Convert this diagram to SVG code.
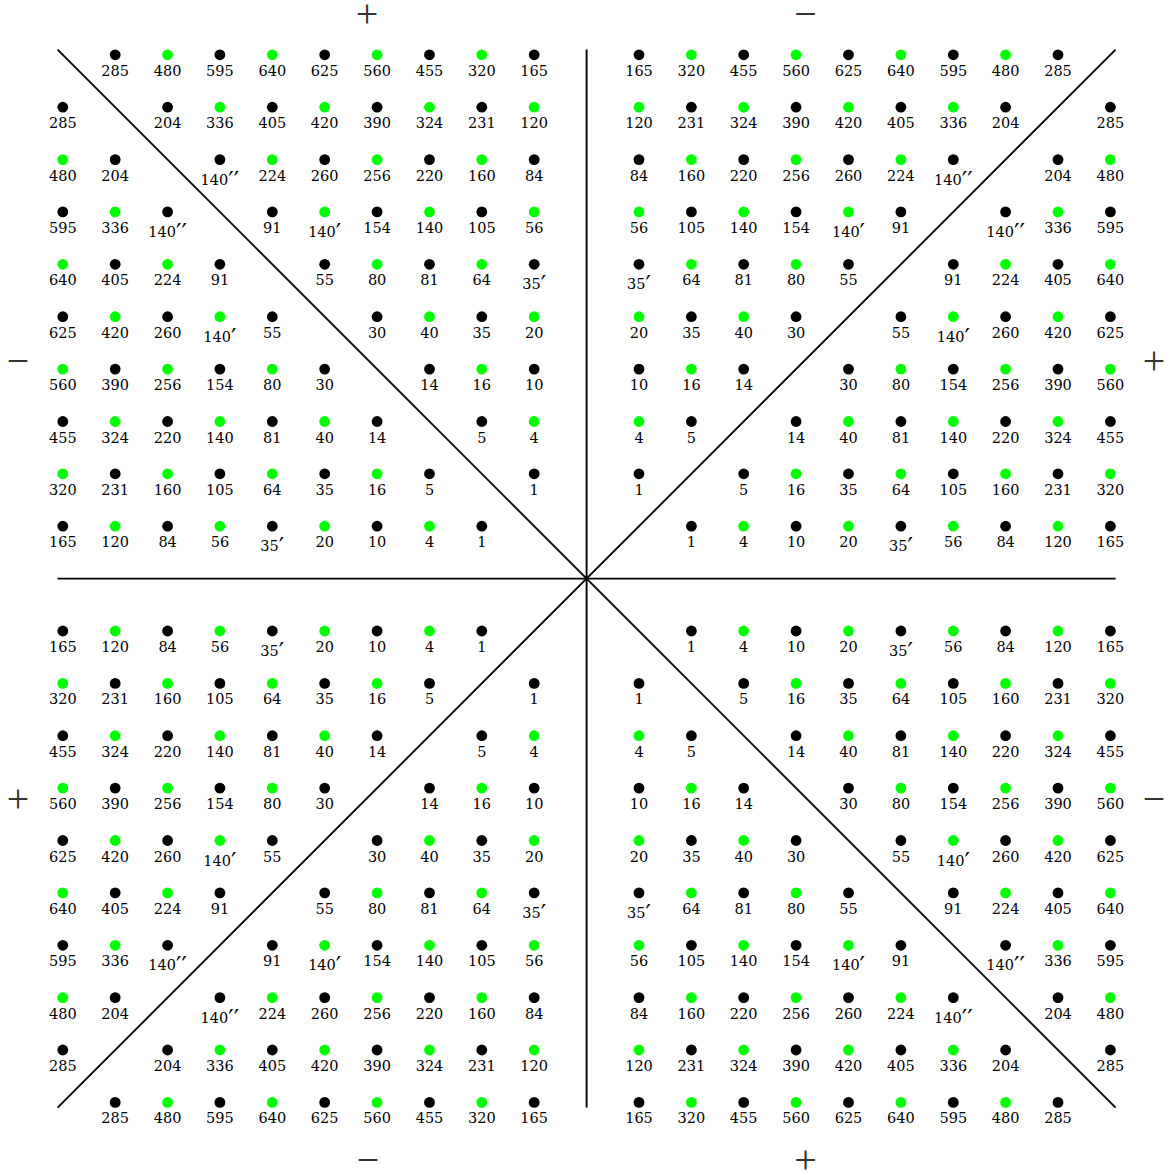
<svg xmlns="http://www.w3.org/2000/svg" width="1173" height="1175" viewBox="0 0 1173 1175">
<style>
text{font-family:"DejaVu Serif","Liberation Serif",serif;font-size:14.5px;text-anchor:middle;fill:#000}
.b circle{fill:#000}
.g circle{fill:#00ff00}
.p{font-family:"DejaVu Sans",sans-serif;font-size:24px}
.sign{font-family:"Liberation Serif",serif;font-size:40px;fill:#333}
.ax{stroke:#000;stroke-width:1.9;fill:none}
</style>
<rect width="1173" height="1175" fill="#fff"/>
<g id="connectors">
<line class="ax" x1="586.6" y1="49.6" x2="586.6" y2="1107.6"/>
<line class="ax" x1="57.6" y1="578.6" x2="1115.6" y2="578.6"/>
<line class="ax" x1="57.6" y1="49.6" x2="1115.6" y2="1107.6"/>
<line class="ax" x1="1115.6" y1="49.6" x2="57.6" y2="1107.6"/>
</g>
<g id="signs">
<text class="sign" x="367" y="26.5">+</text>
<text class="sign" x="805.5" y="26.5">−</text>
<text class="sign" x="18" y="373.5">−</text>
<text class="sign" x="1154" y="373.5">+</text>
<text class="sign" x="18" y="811.5">+</text>
<text class="sign" x="1154" y="811.5">−</text>
<text class="sign" x="368" y="1173">−</text>
<text class="sign" x="805.5" y="1173">+</text>
</g>
<g id="quadrant-tl">
<g id="tl-0-1" class="b" transform="translate(115.2 54.8)"><circle r="5.4"/><text y="21">285</text></g>
<g id="tl-0-2" class="g" transform="translate(167.6 54.8)"><circle r="5.4"/><text y="21">480</text></g>
<g id="tl-0-3" class="b" transform="translate(219.9 54.8)"><circle r="5.4"/><text y="21">595</text></g>
<g id="tl-0-4" class="g" transform="translate(272.3 54.8)"><circle r="5.4"/><text y="21">640</text></g>
<g id="tl-0-5" class="b" transform="translate(324.7 54.8)"><circle r="5.4"/><text y="21">625</text></g>
<g id="tl-0-6" class="g" transform="translate(377.1 54.8)"><circle r="5.4"/><text y="21">560</text></g>
<g id="tl-0-7" class="b" transform="translate(429.5 54.8)"><circle r="5.4"/><text y="21">455</text></g>
<g id="tl-0-8" class="g" transform="translate(481.8 54.8)"><circle r="5.4"/><text y="21">320</text></g>
<g id="tl-0-9" class="b" transform="translate(534.2 54.8)"><circle r="5.4"/><text y="21">165</text></g>
<g id="tl-1-0" class="b" transform="translate(62.8 107.2)"><circle r="5.4"/><text y="21">285</text></g>
<g id="tl-1-2" class="b" transform="translate(167.6 107.2)"><circle r="5.4"/><text y="21">204</text></g>
<g id="tl-1-3" class="g" transform="translate(219.9 107.2)"><circle r="5.4"/><text y="21">336</text></g>
<g id="tl-1-4" class="b" transform="translate(272.3 107.2)"><circle r="5.4"/><text y="21">405</text></g>
<g id="tl-1-5" class="g" transform="translate(324.7 107.2)"><circle r="5.4"/><text y="21">420</text></g>
<g id="tl-1-6" class="b" transform="translate(377.1 107.2)"><circle r="5.4"/><text y="21">390</text></g>
<g id="tl-1-7" class="g" transform="translate(429.5 107.2)"><circle r="5.4"/><text y="21">324</text></g>
<g id="tl-1-8" class="b" transform="translate(481.8 107.2)"><circle r="5.4"/><text y="21">231</text></g>
<g id="tl-1-9" class="g" transform="translate(534.2 107.2)"><circle r="5.4"/><text y="21">120</text></g>
<g id="tl-2-0" class="g" transform="translate(62.8 159.6)"><circle r="5.4"/><text y="21">480</text></g>
<g id="tl-2-1" class="b" transform="translate(115.2 159.6)"><circle r="5.4"/><text y="21">204</text></g>
<g id="tl-2-3" class="b" transform="translate(219.9 159.6)"><circle r="5.4"/><text y="25">140<tspan class="p" dy="4">′′</tspan></text></g>
<g id="tl-2-4" class="g" transform="translate(272.3 159.6)"><circle r="5.4"/><text y="21">224</text></g>
<g id="tl-2-5" class="b" transform="translate(324.7 159.6)"><circle r="5.4"/><text y="21">260</text></g>
<g id="tl-2-6" class="g" transform="translate(377.1 159.6)"><circle r="5.4"/><text y="21">256</text></g>
<g id="tl-2-7" class="b" transform="translate(429.5 159.6)"><circle r="5.4"/><text y="21">220</text></g>
<g id="tl-2-8" class="g" transform="translate(481.8 159.6)"><circle r="5.4"/><text y="21">160</text></g>
<g id="tl-2-9" class="b" transform="translate(534.2 159.6)"><circle r="5.4"/><text y="21">84</text></g>
<g id="tl-3-0" class="b" transform="translate(62.8 211.9)"><circle r="5.4"/><text y="21">595</text></g>
<g id="tl-3-1" class="g" transform="translate(115.2 211.9)"><circle r="5.4"/><text y="21">336</text></g>
<g id="tl-3-2" class="b" transform="translate(167.6 211.9)"><circle r="5.4"/><text y="25">140<tspan class="p" dy="4">′′</tspan></text></g>
<g id="tl-3-4" class="b" transform="translate(272.3 211.9)"><circle r="5.4"/><text y="21">91</text></g>
<g id="tl-3-5" class="g" transform="translate(324.7 211.9)"><circle r="5.4"/><text y="25">140<tspan class="p" dy="4">′</tspan></text></g>
<g id="tl-3-6" class="b" transform="translate(377.1 211.9)"><circle r="5.4"/><text y="21">154</text></g>
<g id="tl-3-7" class="g" transform="translate(429.5 211.9)"><circle r="5.4"/><text y="21">140</text></g>
<g id="tl-3-8" class="b" transform="translate(481.8 211.9)"><circle r="5.4"/><text y="21">105</text></g>
<g id="tl-3-9" class="g" transform="translate(534.2 211.9)"><circle r="5.4"/><text y="21">56</text></g>
<g id="tl-4-0" class="g" transform="translate(62.8 264.3)"><circle r="5.4"/><text y="21">640</text></g>
<g id="tl-4-1" class="b" transform="translate(115.2 264.3)"><circle r="5.4"/><text y="21">405</text></g>
<g id="tl-4-2" class="g" transform="translate(167.6 264.3)"><circle r="5.4"/><text y="21">224</text></g>
<g id="tl-4-3" class="b" transform="translate(219.9 264.3)"><circle r="5.4"/><text y="21">91</text></g>
<g id="tl-4-5" class="b" transform="translate(324.7 264.3)"><circle r="5.4"/><text y="21">55</text></g>
<g id="tl-4-6" class="g" transform="translate(377.1 264.3)"><circle r="5.4"/><text y="21">80</text></g>
<g id="tl-4-7" class="b" transform="translate(429.5 264.3)"><circle r="5.4"/><text y="21">81</text></g>
<g id="tl-4-8" class="g" transform="translate(481.8 264.3)"><circle r="5.4"/><text y="21">64</text></g>
<g id="tl-4-9" class="b" transform="translate(534.2 264.3)"><circle r="5.4"/><text y="25">35<tspan class="p" dy="4">′</tspan></text></g>
<g id="tl-5-0" class="b" transform="translate(62.8 316.7)"><circle r="5.4"/><text y="21">625</text></g>
<g id="tl-5-1" class="g" transform="translate(115.2 316.7)"><circle r="5.4"/><text y="21">420</text></g>
<g id="tl-5-2" class="b" transform="translate(167.6 316.7)"><circle r="5.4"/><text y="21">260</text></g>
<g id="tl-5-3" class="g" transform="translate(219.9 316.7)"><circle r="5.4"/><text y="25">140<tspan class="p" dy="4">′</tspan></text></g>
<g id="tl-5-4" class="b" transform="translate(272.3 316.7)"><circle r="5.4"/><text y="21">55</text></g>
<g id="tl-5-6" class="b" transform="translate(377.1 316.7)"><circle r="5.4"/><text y="21">30</text></g>
<g id="tl-5-7" class="g" transform="translate(429.5 316.7)"><circle r="5.4"/><text y="21">40</text></g>
<g id="tl-5-8" class="b" transform="translate(481.8 316.7)"><circle r="5.4"/><text y="21">35</text></g>
<g id="tl-5-9" class="g" transform="translate(534.2 316.7)"><circle r="5.4"/><text y="21">20</text></g>
<g id="tl-6-0" class="g" transform="translate(62.8 369.1)"><circle r="5.4"/><text y="21">560</text></g>
<g id="tl-6-1" class="b" transform="translate(115.2 369.1)"><circle r="5.4"/><text y="21">390</text></g>
<g id="tl-6-2" class="g" transform="translate(167.6 369.1)"><circle r="5.4"/><text y="21">256</text></g>
<g id="tl-6-3" class="b" transform="translate(219.9 369.1)"><circle r="5.4"/><text y="21">154</text></g>
<g id="tl-6-4" class="g" transform="translate(272.3 369.1)"><circle r="5.4"/><text y="21">80</text></g>
<g id="tl-6-5" class="b" transform="translate(324.7 369.1)"><circle r="5.4"/><text y="21">30</text></g>
<g id="tl-6-7" class="b" transform="translate(429.5 369.1)"><circle r="5.4"/><text y="21">14</text></g>
<g id="tl-6-8" class="g" transform="translate(481.8 369.1)"><circle r="5.4"/><text y="21">16</text></g>
<g id="tl-6-9" class="b" transform="translate(534.2 369.1)"><circle r="5.4"/><text y="21">10</text></g>
<g id="tl-7-0" class="b" transform="translate(62.8 421.5)"><circle r="5.4"/><text y="21">455</text></g>
<g id="tl-7-1" class="g" transform="translate(115.2 421.5)"><circle r="5.4"/><text y="21">324</text></g>
<g id="tl-7-2" class="b" transform="translate(167.6 421.5)"><circle r="5.4"/><text y="21">220</text></g>
<g id="tl-7-3" class="g" transform="translate(219.9 421.5)"><circle r="5.4"/><text y="21">140</text></g>
<g id="tl-7-4" class="b" transform="translate(272.3 421.5)"><circle r="5.4"/><text y="21">81</text></g>
<g id="tl-7-5" class="g" transform="translate(324.7 421.5)"><circle r="5.4"/><text y="21">40</text></g>
<g id="tl-7-6" class="b" transform="translate(377.1 421.5)"><circle r="5.4"/><text y="21">14</text></g>
<g id="tl-7-8" class="b" transform="translate(481.8 421.5)"><circle r="5.4"/><text y="21">5</text></g>
<g id="tl-7-9" class="g" transform="translate(534.2 421.5)"><circle r="5.4"/><text y="21">4</text></g>
<g id="tl-8-0" class="g" transform="translate(62.8 473.8)"><circle r="5.4"/><text y="21">320</text></g>
<g id="tl-8-1" class="b" transform="translate(115.2 473.8)"><circle r="5.4"/><text y="21">231</text></g>
<g id="tl-8-2" class="g" transform="translate(167.6 473.8)"><circle r="5.4"/><text y="21">160</text></g>
<g id="tl-8-3" class="b" transform="translate(219.9 473.8)"><circle r="5.4"/><text y="21">105</text></g>
<g id="tl-8-4" class="g" transform="translate(272.3 473.8)"><circle r="5.4"/><text y="21">64</text></g>
<g id="tl-8-5" class="b" transform="translate(324.7 473.8)"><circle r="5.4"/><text y="21">35</text></g>
<g id="tl-8-6" class="g" transform="translate(377.1 473.8)"><circle r="5.4"/><text y="21">16</text></g>
<g id="tl-8-7" class="b" transform="translate(429.5 473.8)"><circle r="5.4"/><text y="21">5</text></g>
<g id="tl-8-9" class="b" transform="translate(534.2 473.8)"><circle r="5.4"/><text y="21">1</text></g>
<g id="tl-9-0" class="b" transform="translate(62.8 526.2)"><circle r="5.4"/><text y="21">165</text></g>
<g id="tl-9-1" class="g" transform="translate(115.2 526.2)"><circle r="5.4"/><text y="21">120</text></g>
<g id="tl-9-2" class="b" transform="translate(167.6 526.2)"><circle r="5.4"/><text y="21">84</text></g>
<g id="tl-9-3" class="g" transform="translate(219.9 526.2)"><circle r="5.4"/><text y="21">56</text></g>
<g id="tl-9-4" class="b" transform="translate(272.3 526.2)"><circle r="5.4"/><text y="25">35<tspan class="p" dy="4">′</tspan></text></g>
<g id="tl-9-5" class="g" transform="translate(324.7 526.2)"><circle r="5.4"/><text y="21">20</text></g>
<g id="tl-9-6" class="b" transform="translate(377.1 526.2)"><circle r="5.4"/><text y="21">10</text></g>
<g id="tl-9-7" class="g" transform="translate(429.5 526.2)"><circle r="5.4"/><text y="21">4</text></g>
<g id="tl-9-8" class="b" transform="translate(481.8 526.2)"><circle r="5.4"/><text y="21">1</text></g>
</g>
<g id="quadrant-tr">
<g id="tr-0-1" class="b" transform="translate(1058.0 54.8)"><circle r="5.4"/><text y="21">285</text></g>
<g id="tr-0-2" class="g" transform="translate(1005.6 54.8)"><circle r="5.4"/><text y="21">480</text></g>
<g id="tr-0-3" class="b" transform="translate(953.3 54.8)"><circle r="5.4"/><text y="21">595</text></g>
<g id="tr-0-4" class="g" transform="translate(900.9 54.8)"><circle r="5.4"/><text y="21">640</text></g>
<g id="tr-0-5" class="b" transform="translate(848.5 54.8)"><circle r="5.4"/><text y="21">625</text></g>
<g id="tr-0-6" class="g" transform="translate(796.1 54.8)"><circle r="5.4"/><text y="21">560</text></g>
<g id="tr-0-7" class="b" transform="translate(743.7 54.8)"><circle r="5.4"/><text y="21">455</text></g>
<g id="tr-0-8" class="g" transform="translate(691.4 54.8)"><circle r="5.4"/><text y="21">320</text></g>
<g id="tr-0-9" class="b" transform="translate(639.0 54.8)"><circle r="5.4"/><text y="21">165</text></g>
<g id="tr-1-0" class="b" transform="translate(1110.4 107.2)"><circle r="5.4"/><text y="21">285</text></g>
<g id="tr-1-2" class="b" transform="translate(1005.6 107.2)"><circle r="5.4"/><text y="21">204</text></g>
<g id="tr-1-3" class="g" transform="translate(953.3 107.2)"><circle r="5.4"/><text y="21">336</text></g>
<g id="tr-1-4" class="b" transform="translate(900.9 107.2)"><circle r="5.4"/><text y="21">405</text></g>
<g id="tr-1-5" class="g" transform="translate(848.5 107.2)"><circle r="5.4"/><text y="21">420</text></g>
<g id="tr-1-6" class="b" transform="translate(796.1 107.2)"><circle r="5.4"/><text y="21">390</text></g>
<g id="tr-1-7" class="g" transform="translate(743.7 107.2)"><circle r="5.4"/><text y="21">324</text></g>
<g id="tr-1-8" class="b" transform="translate(691.4 107.2)"><circle r="5.4"/><text y="21">231</text></g>
<g id="tr-1-9" class="g" transform="translate(639.0 107.2)"><circle r="5.4"/><text y="21">120</text></g>
<g id="tr-2-0" class="g" transform="translate(1110.4 159.6)"><circle r="5.4"/><text y="21">480</text></g>
<g id="tr-2-1" class="b" transform="translate(1058.0 159.6)"><circle r="5.4"/><text y="21">204</text></g>
<g id="tr-2-3" class="b" transform="translate(953.3 159.6)"><circle r="5.4"/><text y="25">140<tspan class="p" dy="4">′′</tspan></text></g>
<g id="tr-2-4" class="g" transform="translate(900.9 159.6)"><circle r="5.4"/><text y="21">224</text></g>
<g id="tr-2-5" class="b" transform="translate(848.5 159.6)"><circle r="5.4"/><text y="21">260</text></g>
<g id="tr-2-6" class="g" transform="translate(796.1 159.6)"><circle r="5.4"/><text y="21">256</text></g>
<g id="tr-2-7" class="b" transform="translate(743.7 159.6)"><circle r="5.4"/><text y="21">220</text></g>
<g id="tr-2-8" class="g" transform="translate(691.4 159.6)"><circle r="5.4"/><text y="21">160</text></g>
<g id="tr-2-9" class="b" transform="translate(639.0 159.6)"><circle r="5.4"/><text y="21">84</text></g>
<g id="tr-3-0" class="b" transform="translate(1110.4 211.9)"><circle r="5.4"/><text y="21">595</text></g>
<g id="tr-3-1" class="g" transform="translate(1058.0 211.9)"><circle r="5.4"/><text y="21">336</text></g>
<g id="tr-3-2" class="b" transform="translate(1005.6 211.9)"><circle r="5.4"/><text y="25">140<tspan class="p" dy="4">′′</tspan></text></g>
<g id="tr-3-4" class="b" transform="translate(900.9 211.9)"><circle r="5.4"/><text y="21">91</text></g>
<g id="tr-3-5" class="g" transform="translate(848.5 211.9)"><circle r="5.4"/><text y="25">140<tspan class="p" dy="4">′</tspan></text></g>
<g id="tr-3-6" class="b" transform="translate(796.1 211.9)"><circle r="5.4"/><text y="21">154</text></g>
<g id="tr-3-7" class="g" transform="translate(743.7 211.9)"><circle r="5.4"/><text y="21">140</text></g>
<g id="tr-3-8" class="b" transform="translate(691.4 211.9)"><circle r="5.4"/><text y="21">105</text></g>
<g id="tr-3-9" class="g" transform="translate(639.0 211.9)"><circle r="5.4"/><text y="21">56</text></g>
<g id="tr-4-0" class="g" transform="translate(1110.4 264.3)"><circle r="5.4"/><text y="21">640</text></g>
<g id="tr-4-1" class="b" transform="translate(1058.0 264.3)"><circle r="5.4"/><text y="21">405</text></g>
<g id="tr-4-2" class="g" transform="translate(1005.6 264.3)"><circle r="5.4"/><text y="21">224</text></g>
<g id="tr-4-3" class="b" transform="translate(953.3 264.3)"><circle r="5.4"/><text y="21">91</text></g>
<g id="tr-4-5" class="b" transform="translate(848.5 264.3)"><circle r="5.4"/><text y="21">55</text></g>
<g id="tr-4-6" class="g" transform="translate(796.1 264.3)"><circle r="5.4"/><text y="21">80</text></g>
<g id="tr-4-7" class="b" transform="translate(743.7 264.3)"><circle r="5.4"/><text y="21">81</text></g>
<g id="tr-4-8" class="g" transform="translate(691.4 264.3)"><circle r="5.4"/><text y="21">64</text></g>
<g id="tr-4-9" class="b" transform="translate(639.0 264.3)"><circle r="5.4"/><text y="25">35<tspan class="p" dy="4">′</tspan></text></g>
<g id="tr-5-0" class="b" transform="translate(1110.4 316.7)"><circle r="5.4"/><text y="21">625</text></g>
<g id="tr-5-1" class="g" transform="translate(1058.0 316.7)"><circle r="5.4"/><text y="21">420</text></g>
<g id="tr-5-2" class="b" transform="translate(1005.6 316.7)"><circle r="5.4"/><text y="21">260</text></g>
<g id="tr-5-3" class="g" transform="translate(953.3 316.7)"><circle r="5.4"/><text y="25">140<tspan class="p" dy="4">′</tspan></text></g>
<g id="tr-5-4" class="b" transform="translate(900.9 316.7)"><circle r="5.4"/><text y="21">55</text></g>
<g id="tr-5-6" class="b" transform="translate(796.1 316.7)"><circle r="5.4"/><text y="21">30</text></g>
<g id="tr-5-7" class="g" transform="translate(743.7 316.7)"><circle r="5.4"/><text y="21">40</text></g>
<g id="tr-5-8" class="b" transform="translate(691.4 316.7)"><circle r="5.4"/><text y="21">35</text></g>
<g id="tr-5-9" class="g" transform="translate(639.0 316.7)"><circle r="5.4"/><text y="21">20</text></g>
<g id="tr-6-0" class="g" transform="translate(1110.4 369.1)"><circle r="5.4"/><text y="21">560</text></g>
<g id="tr-6-1" class="b" transform="translate(1058.0 369.1)"><circle r="5.4"/><text y="21">390</text></g>
<g id="tr-6-2" class="g" transform="translate(1005.6 369.1)"><circle r="5.4"/><text y="21">256</text></g>
<g id="tr-6-3" class="b" transform="translate(953.3 369.1)"><circle r="5.4"/><text y="21">154</text></g>
<g id="tr-6-4" class="g" transform="translate(900.9 369.1)"><circle r="5.4"/><text y="21">80</text></g>
<g id="tr-6-5" class="b" transform="translate(848.5 369.1)"><circle r="5.4"/><text y="21">30</text></g>
<g id="tr-6-7" class="b" transform="translate(743.7 369.1)"><circle r="5.4"/><text y="21">14</text></g>
<g id="tr-6-8" class="g" transform="translate(691.4 369.1)"><circle r="5.4"/><text y="21">16</text></g>
<g id="tr-6-9" class="b" transform="translate(639.0 369.1)"><circle r="5.4"/><text y="21">10</text></g>
<g id="tr-7-0" class="b" transform="translate(1110.4 421.5)"><circle r="5.4"/><text y="21">455</text></g>
<g id="tr-7-1" class="g" transform="translate(1058.0 421.5)"><circle r="5.4"/><text y="21">324</text></g>
<g id="tr-7-2" class="b" transform="translate(1005.6 421.5)"><circle r="5.4"/><text y="21">220</text></g>
<g id="tr-7-3" class="g" transform="translate(953.3 421.5)"><circle r="5.4"/><text y="21">140</text></g>
<g id="tr-7-4" class="b" transform="translate(900.9 421.5)"><circle r="5.4"/><text y="21">81</text></g>
<g id="tr-7-5" class="g" transform="translate(848.5 421.5)"><circle r="5.4"/><text y="21">40</text></g>
<g id="tr-7-6" class="b" transform="translate(796.1 421.5)"><circle r="5.4"/><text y="21">14</text></g>
<g id="tr-7-8" class="b" transform="translate(691.4 421.5)"><circle r="5.4"/><text y="21">5</text></g>
<g id="tr-7-9" class="g" transform="translate(639.0 421.5)"><circle r="5.4"/><text y="21">4</text></g>
<g id="tr-8-0" class="g" transform="translate(1110.4 473.8)"><circle r="5.4"/><text y="21">320</text></g>
<g id="tr-8-1" class="b" transform="translate(1058.0 473.8)"><circle r="5.4"/><text y="21">231</text></g>
<g id="tr-8-2" class="g" transform="translate(1005.6 473.8)"><circle r="5.4"/><text y="21">160</text></g>
<g id="tr-8-3" class="b" transform="translate(953.3 473.8)"><circle r="5.4"/><text y="21">105</text></g>
<g id="tr-8-4" class="g" transform="translate(900.9 473.8)"><circle r="5.4"/><text y="21">64</text></g>
<g id="tr-8-5" class="b" transform="translate(848.5 473.8)"><circle r="5.4"/><text y="21">35</text></g>
<g id="tr-8-6" class="g" transform="translate(796.1 473.8)"><circle r="5.4"/><text y="21">16</text></g>
<g id="tr-8-7" class="b" transform="translate(743.7 473.8)"><circle r="5.4"/><text y="21">5</text></g>
<g id="tr-8-9" class="b" transform="translate(639.0 473.8)"><circle r="5.4"/><text y="21">1</text></g>
<g id="tr-9-0" class="b" transform="translate(1110.4 526.2)"><circle r="5.4"/><text y="21">165</text></g>
<g id="tr-9-1" class="g" transform="translate(1058.0 526.2)"><circle r="5.4"/><text y="21">120</text></g>
<g id="tr-9-2" class="b" transform="translate(1005.6 526.2)"><circle r="5.4"/><text y="21">84</text></g>
<g id="tr-9-3" class="g" transform="translate(953.3 526.2)"><circle r="5.4"/><text y="21">56</text></g>
<g id="tr-9-4" class="b" transform="translate(900.9 526.2)"><circle r="5.4"/><text y="25">35<tspan class="p" dy="4">′</tspan></text></g>
<g id="tr-9-5" class="g" transform="translate(848.5 526.2)"><circle r="5.4"/><text y="21">20</text></g>
<g id="tr-9-6" class="b" transform="translate(796.1 526.2)"><circle r="5.4"/><text y="21">10</text></g>
<g id="tr-9-7" class="g" transform="translate(743.7 526.2)"><circle r="5.4"/><text y="21">4</text></g>
<g id="tr-9-8" class="b" transform="translate(691.4 526.2)"><circle r="5.4"/><text y="21">1</text></g>
</g>
<g id="quadrant-bl">
<g id="bl-0-1" class="b" transform="translate(115.2 1102.4)"><circle r="5.4"/><text y="21">285</text></g>
<g id="bl-0-2" class="g" transform="translate(167.6 1102.4)"><circle r="5.4"/><text y="21">480</text></g>
<g id="bl-0-3" class="b" transform="translate(219.9 1102.4)"><circle r="5.4"/><text y="21">595</text></g>
<g id="bl-0-4" class="g" transform="translate(272.3 1102.4)"><circle r="5.4"/><text y="21">640</text></g>
<g id="bl-0-5" class="b" transform="translate(324.7 1102.4)"><circle r="5.4"/><text y="21">625</text></g>
<g id="bl-0-6" class="g" transform="translate(377.1 1102.4)"><circle r="5.4"/><text y="21">560</text></g>
<g id="bl-0-7" class="b" transform="translate(429.5 1102.4)"><circle r="5.4"/><text y="21">455</text></g>
<g id="bl-0-8" class="g" transform="translate(481.8 1102.4)"><circle r="5.4"/><text y="21">320</text></g>
<g id="bl-0-9" class="b" transform="translate(534.2 1102.4)"><circle r="5.4"/><text y="21">165</text></g>
<g id="bl-1-0" class="b" transform="translate(62.8 1050.0)"><circle r="5.4"/><text y="21">285</text></g>
<g id="bl-1-2" class="b" transform="translate(167.6 1050.0)"><circle r="5.4"/><text y="21">204</text></g>
<g id="bl-1-3" class="g" transform="translate(219.9 1050.0)"><circle r="5.4"/><text y="21">336</text></g>
<g id="bl-1-4" class="b" transform="translate(272.3 1050.0)"><circle r="5.4"/><text y="21">405</text></g>
<g id="bl-1-5" class="g" transform="translate(324.7 1050.0)"><circle r="5.4"/><text y="21">420</text></g>
<g id="bl-1-6" class="b" transform="translate(377.1 1050.0)"><circle r="5.4"/><text y="21">390</text></g>
<g id="bl-1-7" class="g" transform="translate(429.5 1050.0)"><circle r="5.4"/><text y="21">324</text></g>
<g id="bl-1-8" class="b" transform="translate(481.8 1050.0)"><circle r="5.4"/><text y="21">231</text></g>
<g id="bl-1-9" class="g" transform="translate(534.2 1050.0)"><circle r="5.4"/><text y="21">120</text></g>
<g id="bl-2-0" class="g" transform="translate(62.8 997.6)"><circle r="5.4"/><text y="21">480</text></g>
<g id="bl-2-1" class="b" transform="translate(115.2 997.6)"><circle r="5.4"/><text y="21">204</text></g>
<g id="bl-2-3" class="b" transform="translate(219.9 997.6)"><circle r="5.4"/><text y="25">140<tspan class="p" dy="4">′′</tspan></text></g>
<g id="bl-2-4" class="g" transform="translate(272.3 997.6)"><circle r="5.4"/><text y="21">224</text></g>
<g id="bl-2-5" class="b" transform="translate(324.7 997.6)"><circle r="5.4"/><text y="21">260</text></g>
<g id="bl-2-6" class="g" transform="translate(377.1 997.6)"><circle r="5.4"/><text y="21">256</text></g>
<g id="bl-2-7" class="b" transform="translate(429.5 997.6)"><circle r="5.4"/><text y="21">220</text></g>
<g id="bl-2-8" class="g" transform="translate(481.8 997.6)"><circle r="5.4"/><text y="21">160</text></g>
<g id="bl-2-9" class="b" transform="translate(534.2 997.6)"><circle r="5.4"/><text y="21">84</text></g>
<g id="bl-3-0" class="b" transform="translate(62.8 945.3)"><circle r="5.4"/><text y="21">595</text></g>
<g id="bl-3-1" class="g" transform="translate(115.2 945.3)"><circle r="5.4"/><text y="21">336</text></g>
<g id="bl-3-2" class="b" transform="translate(167.6 945.3)"><circle r="5.4"/><text y="25">140<tspan class="p" dy="4">′′</tspan></text></g>
<g id="bl-3-4" class="b" transform="translate(272.3 945.3)"><circle r="5.4"/><text y="21">91</text></g>
<g id="bl-3-5" class="g" transform="translate(324.7 945.3)"><circle r="5.4"/><text y="25">140<tspan class="p" dy="4">′</tspan></text></g>
<g id="bl-3-6" class="b" transform="translate(377.1 945.3)"><circle r="5.4"/><text y="21">154</text></g>
<g id="bl-3-7" class="g" transform="translate(429.5 945.3)"><circle r="5.4"/><text y="21">140</text></g>
<g id="bl-3-8" class="b" transform="translate(481.8 945.3)"><circle r="5.4"/><text y="21">105</text></g>
<g id="bl-3-9" class="g" transform="translate(534.2 945.3)"><circle r="5.4"/><text y="21">56</text></g>
<g id="bl-4-0" class="g" transform="translate(62.8 892.9)"><circle r="5.4"/><text y="21">640</text></g>
<g id="bl-4-1" class="b" transform="translate(115.2 892.9)"><circle r="5.4"/><text y="21">405</text></g>
<g id="bl-4-2" class="g" transform="translate(167.6 892.9)"><circle r="5.4"/><text y="21">224</text></g>
<g id="bl-4-3" class="b" transform="translate(219.9 892.9)"><circle r="5.4"/><text y="21">91</text></g>
<g id="bl-4-5" class="b" transform="translate(324.7 892.9)"><circle r="5.4"/><text y="21">55</text></g>
<g id="bl-4-6" class="g" transform="translate(377.1 892.9)"><circle r="5.4"/><text y="21">80</text></g>
<g id="bl-4-7" class="b" transform="translate(429.5 892.9)"><circle r="5.4"/><text y="21">81</text></g>
<g id="bl-4-8" class="g" transform="translate(481.8 892.9)"><circle r="5.4"/><text y="21">64</text></g>
<g id="bl-4-9" class="b" transform="translate(534.2 892.9)"><circle r="5.4"/><text y="25">35<tspan class="p" dy="4">′</tspan></text></g>
<g id="bl-5-0" class="b" transform="translate(62.8 840.5)"><circle r="5.4"/><text y="21">625</text></g>
<g id="bl-5-1" class="g" transform="translate(115.2 840.5)"><circle r="5.4"/><text y="21">420</text></g>
<g id="bl-5-2" class="b" transform="translate(167.6 840.5)"><circle r="5.4"/><text y="21">260</text></g>
<g id="bl-5-3" class="g" transform="translate(219.9 840.5)"><circle r="5.4"/><text y="25">140<tspan class="p" dy="4">′</tspan></text></g>
<g id="bl-5-4" class="b" transform="translate(272.3 840.5)"><circle r="5.4"/><text y="21">55</text></g>
<g id="bl-5-6" class="b" transform="translate(377.1 840.5)"><circle r="5.4"/><text y="21">30</text></g>
<g id="bl-5-7" class="g" transform="translate(429.5 840.5)"><circle r="5.4"/><text y="21">40</text></g>
<g id="bl-5-8" class="b" transform="translate(481.8 840.5)"><circle r="5.4"/><text y="21">35</text></g>
<g id="bl-5-9" class="g" transform="translate(534.2 840.5)"><circle r="5.4"/><text y="21">20</text></g>
<g id="bl-6-0" class="g" transform="translate(62.8 788.1)"><circle r="5.4"/><text y="21">560</text></g>
<g id="bl-6-1" class="b" transform="translate(115.2 788.1)"><circle r="5.4"/><text y="21">390</text></g>
<g id="bl-6-2" class="g" transform="translate(167.6 788.1)"><circle r="5.4"/><text y="21">256</text></g>
<g id="bl-6-3" class="b" transform="translate(219.9 788.1)"><circle r="5.4"/><text y="21">154</text></g>
<g id="bl-6-4" class="g" transform="translate(272.3 788.1)"><circle r="5.4"/><text y="21">80</text></g>
<g id="bl-6-5" class="b" transform="translate(324.7 788.1)"><circle r="5.4"/><text y="21">30</text></g>
<g id="bl-6-7" class="b" transform="translate(429.5 788.1)"><circle r="5.4"/><text y="21">14</text></g>
<g id="bl-6-8" class="g" transform="translate(481.8 788.1)"><circle r="5.4"/><text y="21">16</text></g>
<g id="bl-6-9" class="b" transform="translate(534.2 788.1)"><circle r="5.4"/><text y="21">10</text></g>
<g id="bl-7-0" class="b" transform="translate(62.8 735.7)"><circle r="5.4"/><text y="21">455</text></g>
<g id="bl-7-1" class="g" transform="translate(115.2 735.7)"><circle r="5.4"/><text y="21">324</text></g>
<g id="bl-7-2" class="b" transform="translate(167.6 735.7)"><circle r="5.4"/><text y="21">220</text></g>
<g id="bl-7-3" class="g" transform="translate(219.9 735.7)"><circle r="5.4"/><text y="21">140</text></g>
<g id="bl-7-4" class="b" transform="translate(272.3 735.7)"><circle r="5.4"/><text y="21">81</text></g>
<g id="bl-7-5" class="g" transform="translate(324.7 735.7)"><circle r="5.4"/><text y="21">40</text></g>
<g id="bl-7-6" class="b" transform="translate(377.1 735.7)"><circle r="5.4"/><text y="21">14</text></g>
<g id="bl-7-8" class="b" transform="translate(481.8 735.7)"><circle r="5.4"/><text y="21">5</text></g>
<g id="bl-7-9" class="g" transform="translate(534.2 735.7)"><circle r="5.4"/><text y="21">4</text></g>
<g id="bl-8-0" class="g" transform="translate(62.8 683.4)"><circle r="5.4"/><text y="21">320</text></g>
<g id="bl-8-1" class="b" transform="translate(115.2 683.4)"><circle r="5.4"/><text y="21">231</text></g>
<g id="bl-8-2" class="g" transform="translate(167.6 683.4)"><circle r="5.4"/><text y="21">160</text></g>
<g id="bl-8-3" class="b" transform="translate(219.9 683.4)"><circle r="5.4"/><text y="21">105</text></g>
<g id="bl-8-4" class="g" transform="translate(272.3 683.4)"><circle r="5.4"/><text y="21">64</text></g>
<g id="bl-8-5" class="b" transform="translate(324.7 683.4)"><circle r="5.4"/><text y="21">35</text></g>
<g id="bl-8-6" class="g" transform="translate(377.1 683.4)"><circle r="5.4"/><text y="21">16</text></g>
<g id="bl-8-7" class="b" transform="translate(429.5 683.4)"><circle r="5.4"/><text y="21">5</text></g>
<g id="bl-8-9" class="b" transform="translate(534.2 683.4)"><circle r="5.4"/><text y="21">1</text></g>
<g id="bl-9-0" class="b" transform="translate(62.8 631.0)"><circle r="5.4"/><text y="21">165</text></g>
<g id="bl-9-1" class="g" transform="translate(115.2 631.0)"><circle r="5.4"/><text y="21">120</text></g>
<g id="bl-9-2" class="b" transform="translate(167.6 631.0)"><circle r="5.4"/><text y="21">84</text></g>
<g id="bl-9-3" class="g" transform="translate(219.9 631.0)"><circle r="5.4"/><text y="21">56</text></g>
<g id="bl-9-4" class="b" transform="translate(272.3 631.0)"><circle r="5.4"/><text y="25">35<tspan class="p" dy="4">′</tspan></text></g>
<g id="bl-9-5" class="g" transform="translate(324.7 631.0)"><circle r="5.4"/><text y="21">20</text></g>
<g id="bl-9-6" class="b" transform="translate(377.1 631.0)"><circle r="5.4"/><text y="21">10</text></g>
<g id="bl-9-7" class="g" transform="translate(429.5 631.0)"><circle r="5.4"/><text y="21">4</text></g>
<g id="bl-9-8" class="b" transform="translate(481.8 631.0)"><circle r="5.4"/><text y="21">1</text></g>
</g>
<g id="quadrant-br">
<g id="br-0-1" class="b" transform="translate(1058.0 1102.4)"><circle r="5.4"/><text y="21">285</text></g>
<g id="br-0-2" class="g" transform="translate(1005.6 1102.4)"><circle r="5.4"/><text y="21">480</text></g>
<g id="br-0-3" class="b" transform="translate(953.3 1102.4)"><circle r="5.4"/><text y="21">595</text></g>
<g id="br-0-4" class="g" transform="translate(900.9 1102.4)"><circle r="5.4"/><text y="21">640</text></g>
<g id="br-0-5" class="b" transform="translate(848.5 1102.4)"><circle r="5.4"/><text y="21">625</text></g>
<g id="br-0-6" class="g" transform="translate(796.1 1102.4)"><circle r="5.4"/><text y="21">560</text></g>
<g id="br-0-7" class="b" transform="translate(743.7 1102.4)"><circle r="5.4"/><text y="21">455</text></g>
<g id="br-0-8" class="g" transform="translate(691.4 1102.4)"><circle r="5.4"/><text y="21">320</text></g>
<g id="br-0-9" class="b" transform="translate(639.0 1102.4)"><circle r="5.4"/><text y="21">165</text></g>
<g id="br-1-0" class="b" transform="translate(1110.4 1050.0)"><circle r="5.4"/><text y="21">285</text></g>
<g id="br-1-2" class="b" transform="translate(1005.6 1050.0)"><circle r="5.4"/><text y="21">204</text></g>
<g id="br-1-3" class="g" transform="translate(953.3 1050.0)"><circle r="5.4"/><text y="21">336</text></g>
<g id="br-1-4" class="b" transform="translate(900.9 1050.0)"><circle r="5.4"/><text y="21">405</text></g>
<g id="br-1-5" class="g" transform="translate(848.5 1050.0)"><circle r="5.4"/><text y="21">420</text></g>
<g id="br-1-6" class="b" transform="translate(796.1 1050.0)"><circle r="5.4"/><text y="21">390</text></g>
<g id="br-1-7" class="g" transform="translate(743.7 1050.0)"><circle r="5.4"/><text y="21">324</text></g>
<g id="br-1-8" class="b" transform="translate(691.4 1050.0)"><circle r="5.4"/><text y="21">231</text></g>
<g id="br-1-9" class="g" transform="translate(639.0 1050.0)"><circle r="5.4"/><text y="21">120</text></g>
<g id="br-2-0" class="g" transform="translate(1110.4 997.6)"><circle r="5.4"/><text y="21">480</text></g>
<g id="br-2-1" class="b" transform="translate(1058.0 997.6)"><circle r="5.4"/><text y="21">204</text></g>
<g id="br-2-3" class="b" transform="translate(953.3 997.6)"><circle r="5.4"/><text y="25">140<tspan class="p" dy="4">′′</tspan></text></g>
<g id="br-2-4" class="g" transform="translate(900.9 997.6)"><circle r="5.4"/><text y="21">224</text></g>
<g id="br-2-5" class="b" transform="translate(848.5 997.6)"><circle r="5.4"/><text y="21">260</text></g>
<g id="br-2-6" class="g" transform="translate(796.1 997.6)"><circle r="5.4"/><text y="21">256</text></g>
<g id="br-2-7" class="b" transform="translate(743.7 997.6)"><circle r="5.4"/><text y="21">220</text></g>
<g id="br-2-8" class="g" transform="translate(691.4 997.6)"><circle r="5.4"/><text y="21">160</text></g>
<g id="br-2-9" class="b" transform="translate(639.0 997.6)"><circle r="5.4"/><text y="21">84</text></g>
<g id="br-3-0" class="b" transform="translate(1110.4 945.3)"><circle r="5.4"/><text y="21">595</text></g>
<g id="br-3-1" class="g" transform="translate(1058.0 945.3)"><circle r="5.4"/><text y="21">336</text></g>
<g id="br-3-2" class="b" transform="translate(1005.6 945.3)"><circle r="5.4"/><text y="25">140<tspan class="p" dy="4">′′</tspan></text></g>
<g id="br-3-4" class="b" transform="translate(900.9 945.3)"><circle r="5.4"/><text y="21">91</text></g>
<g id="br-3-5" class="g" transform="translate(848.5 945.3)"><circle r="5.4"/><text y="25">140<tspan class="p" dy="4">′</tspan></text></g>
<g id="br-3-6" class="b" transform="translate(796.1 945.3)"><circle r="5.4"/><text y="21">154</text></g>
<g id="br-3-7" class="g" transform="translate(743.7 945.3)"><circle r="5.4"/><text y="21">140</text></g>
<g id="br-3-8" class="b" transform="translate(691.4 945.3)"><circle r="5.4"/><text y="21">105</text></g>
<g id="br-3-9" class="g" transform="translate(639.0 945.3)"><circle r="5.4"/><text y="21">56</text></g>
<g id="br-4-0" class="g" transform="translate(1110.4 892.9)"><circle r="5.4"/><text y="21">640</text></g>
<g id="br-4-1" class="b" transform="translate(1058.0 892.9)"><circle r="5.4"/><text y="21">405</text></g>
<g id="br-4-2" class="g" transform="translate(1005.6 892.9)"><circle r="5.4"/><text y="21">224</text></g>
<g id="br-4-3" class="b" transform="translate(953.3 892.9)"><circle r="5.4"/><text y="21">91</text></g>
<g id="br-4-5" class="b" transform="translate(848.5 892.9)"><circle r="5.4"/><text y="21">55</text></g>
<g id="br-4-6" class="g" transform="translate(796.1 892.9)"><circle r="5.4"/><text y="21">80</text></g>
<g id="br-4-7" class="b" transform="translate(743.7 892.9)"><circle r="5.4"/><text y="21">81</text></g>
<g id="br-4-8" class="g" transform="translate(691.4 892.9)"><circle r="5.4"/><text y="21">64</text></g>
<g id="br-4-9" class="b" transform="translate(639.0 892.9)"><circle r="5.4"/><text y="25">35<tspan class="p" dy="4">′</tspan></text></g>
<g id="br-5-0" class="b" transform="translate(1110.4 840.5)"><circle r="5.4"/><text y="21">625</text></g>
<g id="br-5-1" class="g" transform="translate(1058.0 840.5)"><circle r="5.4"/><text y="21">420</text></g>
<g id="br-5-2" class="b" transform="translate(1005.6 840.5)"><circle r="5.4"/><text y="21">260</text></g>
<g id="br-5-3" class="g" transform="translate(953.3 840.5)"><circle r="5.4"/><text y="25">140<tspan class="p" dy="4">′</tspan></text></g>
<g id="br-5-4" class="b" transform="translate(900.9 840.5)"><circle r="5.4"/><text y="21">55</text></g>
<g id="br-5-6" class="b" transform="translate(796.1 840.5)"><circle r="5.4"/><text y="21">30</text></g>
<g id="br-5-7" class="g" transform="translate(743.7 840.5)"><circle r="5.4"/><text y="21">40</text></g>
<g id="br-5-8" class="b" transform="translate(691.4 840.5)"><circle r="5.4"/><text y="21">35</text></g>
<g id="br-5-9" class="g" transform="translate(639.0 840.5)"><circle r="5.4"/><text y="21">20</text></g>
<g id="br-6-0" class="g" transform="translate(1110.4 788.1)"><circle r="5.4"/><text y="21">560</text></g>
<g id="br-6-1" class="b" transform="translate(1058.0 788.1)"><circle r="5.4"/><text y="21">390</text></g>
<g id="br-6-2" class="g" transform="translate(1005.6 788.1)"><circle r="5.4"/><text y="21">256</text></g>
<g id="br-6-3" class="b" transform="translate(953.3 788.1)"><circle r="5.4"/><text y="21">154</text></g>
<g id="br-6-4" class="g" transform="translate(900.9 788.1)"><circle r="5.4"/><text y="21">80</text></g>
<g id="br-6-5" class="b" transform="translate(848.5 788.1)"><circle r="5.4"/><text y="21">30</text></g>
<g id="br-6-7" class="b" transform="translate(743.7 788.1)"><circle r="5.4"/><text y="21">14</text></g>
<g id="br-6-8" class="g" transform="translate(691.4 788.1)"><circle r="5.4"/><text y="21">16</text></g>
<g id="br-6-9" class="b" transform="translate(639.0 788.1)"><circle r="5.4"/><text y="21">10</text></g>
<g id="br-7-0" class="b" transform="translate(1110.4 735.7)"><circle r="5.4"/><text y="21">455</text></g>
<g id="br-7-1" class="g" transform="translate(1058.0 735.7)"><circle r="5.4"/><text y="21">324</text></g>
<g id="br-7-2" class="b" transform="translate(1005.6 735.7)"><circle r="5.4"/><text y="21">220</text></g>
<g id="br-7-3" class="g" transform="translate(953.3 735.7)"><circle r="5.4"/><text y="21">140</text></g>
<g id="br-7-4" class="b" transform="translate(900.9 735.7)"><circle r="5.4"/><text y="21">81</text></g>
<g id="br-7-5" class="g" transform="translate(848.5 735.7)"><circle r="5.4"/><text y="21">40</text></g>
<g id="br-7-6" class="b" transform="translate(796.1 735.7)"><circle r="5.4"/><text y="21">14</text></g>
<g id="br-7-8" class="b" transform="translate(691.4 735.7)"><circle r="5.4"/><text y="21">5</text></g>
<g id="br-7-9" class="g" transform="translate(639.0 735.7)"><circle r="5.4"/><text y="21">4</text></g>
<g id="br-8-0" class="g" transform="translate(1110.4 683.4)"><circle r="5.4"/><text y="21">320</text></g>
<g id="br-8-1" class="b" transform="translate(1058.0 683.4)"><circle r="5.4"/><text y="21">231</text></g>
<g id="br-8-2" class="g" transform="translate(1005.6 683.4)"><circle r="5.4"/><text y="21">160</text></g>
<g id="br-8-3" class="b" transform="translate(953.3 683.4)"><circle r="5.4"/><text y="21">105</text></g>
<g id="br-8-4" class="g" transform="translate(900.9 683.4)"><circle r="5.4"/><text y="21">64</text></g>
<g id="br-8-5" class="b" transform="translate(848.5 683.4)"><circle r="5.4"/><text y="21">35</text></g>
<g id="br-8-6" class="g" transform="translate(796.1 683.4)"><circle r="5.4"/><text y="21">16</text></g>
<g id="br-8-7" class="b" transform="translate(743.7 683.4)"><circle r="5.4"/><text y="21">5</text></g>
<g id="br-8-9" class="b" transform="translate(639.0 683.4)"><circle r="5.4"/><text y="21">1</text></g>
<g id="br-9-0" class="b" transform="translate(1110.4 631.0)"><circle r="5.4"/><text y="21">165</text></g>
<g id="br-9-1" class="g" transform="translate(1058.0 631.0)"><circle r="5.4"/><text y="21">120</text></g>
<g id="br-9-2" class="b" transform="translate(1005.6 631.0)"><circle r="5.4"/><text y="21">84</text></g>
<g id="br-9-3" class="g" transform="translate(953.3 631.0)"><circle r="5.4"/><text y="21">56</text></g>
<g id="br-9-4" class="b" transform="translate(900.9 631.0)"><circle r="5.4"/><text y="25">35<tspan class="p" dy="4">′</tspan></text></g>
<g id="br-9-5" class="g" transform="translate(848.5 631.0)"><circle r="5.4"/><text y="21">20</text></g>
<g id="br-9-6" class="b" transform="translate(796.1 631.0)"><circle r="5.4"/><text y="21">10</text></g>
<g id="br-9-7" class="g" transform="translate(743.7 631.0)"><circle r="5.4"/><text y="21">4</text></g>
<g id="br-9-8" class="b" transform="translate(691.4 631.0)"><circle r="5.4"/><text y="21">1</text></g>
</g>
</svg>
